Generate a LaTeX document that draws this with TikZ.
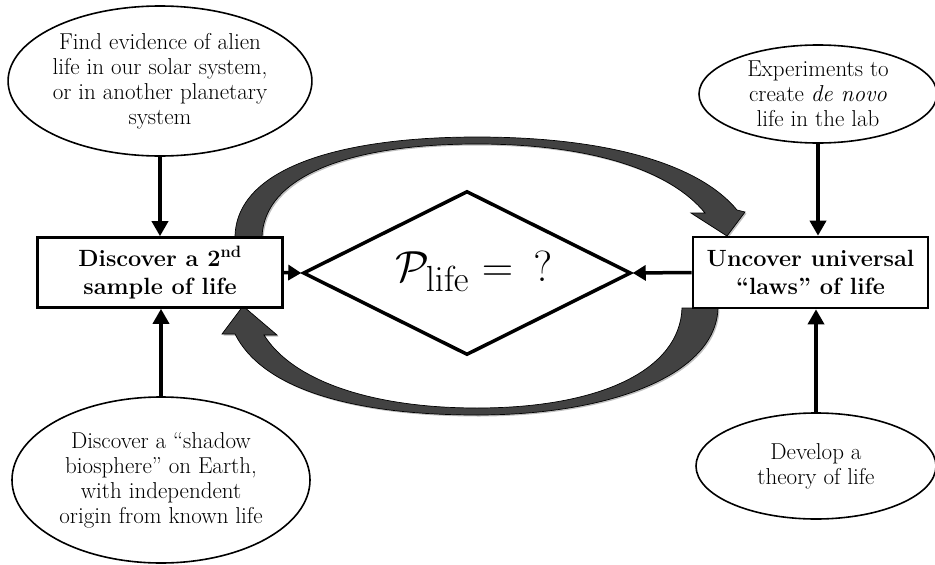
\documentclass[tikz,border=0pt]{standalone}
\usetikzlibrary{shapes.geometric,arrows.meta,shadows}
\begin{document}
\begin{tikzpicture}[x=1pt,y=-1pt,
  ell/.style={draw, line width=1.6pt, ellipse, inner sep=0pt, align=center, fill=white,
    font=\fontsize{23}{25}\selectfont},
  box/.style={draw, line width=2.6pt, fill=white, rectangle, inner sep=0pt, align=center,
    font=\fontsize{23.5}{28}\selectfont\bfseries},
  varr/.style={line width=3.5pt, -{Triangle[length=15pt,width=16pt]}},
  harr/.style={line width=3.5pt, -{Triangle[length=13pt,width=15pt]}},
  bigarrow/.style={draw=black, line width=0.7pt, fill=black!74, line join=miter,
    drop shadow={shadow xshift=1.5pt, shadow yshift=-1.5pt, opacity=0.25, fill=black}}]
\useasboundingbox (0,0) rectangle (935,565);

% big curved arrows
\path[bigarrow] (235,237) .. controls (236,168) and (340,137) .. (477,137)
   .. controls (610,137) and (700,165) .. (737,210)
   -- (745,212) -- (727,236) -- (691,213) -- (705,213)
   .. controls (670,170) and (590,144) .. (477,144)
   .. controls (345,144) and (264,178) .. (262,237) -- cycle;
\path[bigarrow] (718,308) .. controls (716,375) and (610,415) .. (477,415)
   .. controls (350,415) and (262,388) .. (235,334)
   -- (222,334) -- (243,306) -- (277,335) -- (264,335)
   .. controls (292,380) and (370,408) .. (477,408)
   .. controls (600,408) and (680,370) .. (682,308) -- cycle;

% ellipses
\node[ell, minimum width=298pt, minimum height=150pt] (tl) at (160,81)
  {Find evidence of alien\\life in our solar system,\\or in another planetary\\system};
\node[ell, minimum width=298pt, minimum height=166pt] (bl) at (161,480)
  {Discover a “shadow\\biosphere” on Earth,\\with independent\\origin from known life};
\node[ell, minimum width=238pt, minimum height=98pt] (tr) at (818,94)
  {Experiments to\\create \textit{de novo}\\life in the lab};
\node[ell, minimum width=240pt, minimum height=106pt] (br) at (816,466)
  {Develop a\\theory of life};

% boxes
\node[box, minimum width=245pt, minimum height=70pt] (lb) at (160,272.5)
  {Discover a 2\textsuperscript{nd}\\sample of life};
\node[box, minimum width=235pt, minimum height=71pt] (rb) at (810.5,272.5)
  {Uncover universal\\“laws” of life};

% diamond
\node[draw, diamond, aspect=2, line width=3.5pt, inner sep=0pt,
  minimum width=328pt, minimum height=164pt] (dia) at (467,273) {};
\node[scale=1.75] (pl) at (474,271) {\Huge$\mathcal{P}_{\mathrm{life}} =\ \,?$};

% connectors
\draw[varr] (tl.south) -- (tl.south |- lb.north);
\draw[varr] (bl.north) -- (bl.north |- lb.south);
\draw[varr] (tr.south) -- (tr.south |- rb.north);
\draw[varr] (br.north) -- (br.north |- rb.south);
\draw[harr] (lb.east) -- (dia.west);
\draw[harr] (rb.west) -- (dia.east);
\end{tikzpicture}
\end{document}
